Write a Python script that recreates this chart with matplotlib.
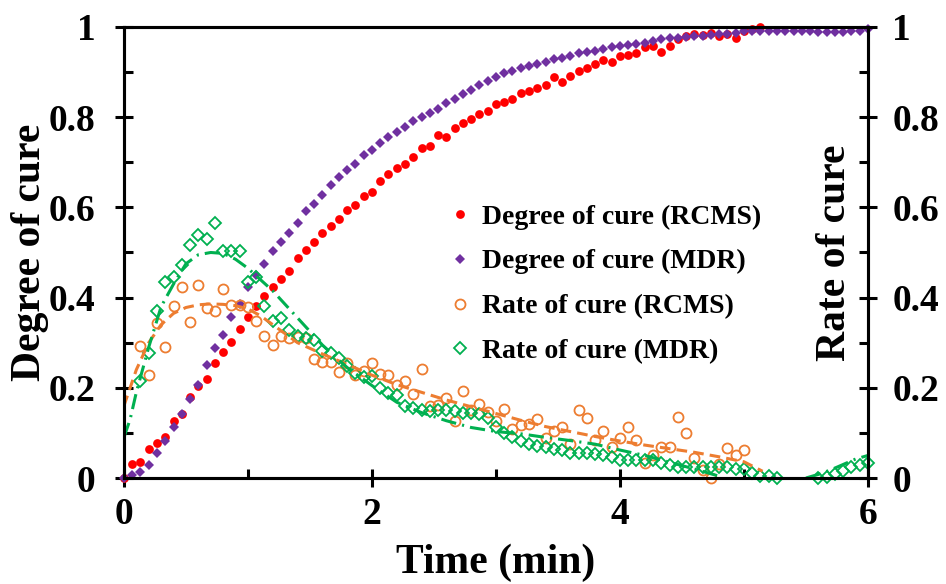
import numpy as np
import matplotlib
matplotlib.use('Agg')
import matplotlib.pyplot as plt
from matplotlib.ticker import MultipleLocator

plt.rcParams['font.family'] = ['Liberation Serif', 'DejaVu Serif']
plt.rcParams['font.weight'] = 'bold'

nan = np.nan

# sampling times (s), one point every 4 s
time_s = [0, 4, 8, 12, 16, 20, 24, 28, 32, 36, 40, 44, 48, 52, 56, 60, 64, 68, 72, 76,
          80, 84, 88, 92, 96, 100, 104, 108, 112, 116, 120, 124, 128, 132, 136, 140, 144, 148, 152, 156,
          160, 164, 168, 172, 176, 180, 184, 188, 192, 196, 200, 204, 208, 212, 216, 220, 224, 228, 232, 236,
          240, 244, 248, 252, 256, 260, 264, 268, 272, 276, 280, 284, 288, 292, 296, 300, 304, 308, 312, 316,
          320, 324, 328, 332, 336, 340, 344, 348, 352, 356, 360]

# degree of cure, RCMS
deg_rcms = [0.0, 0.031, 0.035, 0.064, 0.077, 0.090, 0.127, 0.141, 0.180, 0.204,
            0.219, 0.254, 0.279, 0.302, 0.331, 0.358, 0.381, 0.404, 0.423, 0.441,
            0.460, 0.487, 0.506, 0.523, 0.543, 0.559, 0.574, 0.594, 0.605, 0.626,
            0.634, 0.658, 0.675, 0.687, 0.696, 0.712, 0.731, 0.737, 0.760, 0.755,
            0.775, 0.786, 0.795, 0.806, 0.814, 0.829, 0.834, 0.841, 0.854, 0.857,
            0.865, 0.871, 0.888, 0.879, 0.891, 0.902, 0.908, 0.919, 0.927, 0.923,
            0.936, 0.938, 0.942, 0.955, 0.958, 0.945, 0.957, 0.973, 0.979, 0.984,
            0.983, 0.986, 0.981, 0.984, 0.976, 0.990, 0.995, 1.000, nan, nan,
            nan, nan, nan, nan, nan, nan, nan, nan, nan, nan, nan]

# degree of cure, MDR
deg_mdr = [0.0, 0.006, 0.014, 0.028, 0.055, 0.083, 0.112, 0.143, 0.176, 0.206,
           0.251, 0.288, 0.317, 0.358, 0.385, 0.423, 0.449, 0.474, 0.504, 0.523,
           0.544, 0.566, 0.593, 0.608, 0.627, 0.649, 0.667, 0.683, 0.697, 0.716,
           0.728, 0.742, 0.757, 0.768, 0.779, 0.792, 0.801, 0.810, 0.819, 0.831,
           0.840, 0.851, 0.860, 0.871, 0.881, 0.888, 0.897, 0.903, 0.908, 0.914,
           0.919, 0.923, 0.928, 0.931, 0.936, 0.942, 0.944, 0.947, 0.952, 0.955,
           0.958, 0.960, 0.962, 0.965, 0.968, 0.973, 0.975, 0.976, 0.978, 0.980,
           0.981, 0.982, 0.984, 0.985, 0.987, 0.990, 0.991, 0.991, 0.991, 0.991,
           0.991, 0.991, 0.991, 0.990, 0.989, 0.989, 0.989, 0.989, 0.990, 0.992, 0.995]

# rate of cure, RCMS
rate_rcms = [nan, nan, 0.293, 0.228, 0.343, 0.291, 0.381, 0.424, 0.346, 0.429,
             0.378, 0.370, 0.418, 0.383, 0.383, 0.380, 0.347, 0.314, 0.296, 0.314,
             0.311, 0.313, 0.311, 0.264, 0.258, 0.258, 0.236, 0.254, 0.228, 0.238,
             0.256, 0.231, 0.229, 0.207, 0.214, 0.186, 0.241, 0.160, 0.162, 0.177,
             0.127, 0.194, 0.150, 0.163, 0.147, 0.127, 0.152, 0.108, 0.118, 0.119,
             0.131, 0.088, 0.105, 0.112, 0.075, 0.151, 0.132, 0.084, 0.104, 0.069,
             0.089, 0.112, 0.084, 0.033, 0.051, 0.069, 0.068, 0.135, 0.099, 0.045,
             0.018, 0.0, 0.030, 0.067, 0.051, 0.061, nan, nan, nan, nan,
             nan, nan, nan, nan, nan, nan, nan, nan, nan, nan, nan]

# rate of cure, MDR
rate_mdr = [nan, nan, 0.214, 0.277, 0.371, 0.434, 0.445, 0.472, 0.516, 0.538,
            0.531, 0.566, 0.504, 0.504, 0.504, 0.434, 0.446, 0.381, 0.348, 0.354,
            0.329, 0.314, 0.311, 0.305, 0.281, 0.277, 0.265, 0.248, 0.232, 0.223,
            0.226, 0.199, 0.189, 0.184, 0.160, 0.155, 0.150, 0.149, 0.150, 0.150,
            0.149, 0.144, 0.145, 0.143, 0.132, 0.114, 0.099, 0.090, 0.081, 0.075,
            0.071, 0.068, 0.064, 0.061, 0.056, 0.056, 0.055, 0.053, 0.051, 0.047,
            0.040, 0.040, 0.040, 0.040, 0.040, 0.033, 0.028, 0.024, 0.025, 0.025,
            0.025, 0.025, 0.025, 0.024, 0.019, 0.019, 0.010, 0.004, 0.004, 0.0,
            nan, nan, nan, nan, 0.0, 0.002, 0.009, 0.016, 0.024, 0.029, 0.034]

# fitted rate curves
fit_rcms_t = [0, 0.05, 0.1, 0.15, 0.2, 0.3, 0.4, 0.5, 0.6, 0.7, 0.8, 0.9, 1.0, 1.1, 1.2,
              1.4, 1.6, 1.8, 2.0, 2.2, 2.4, 2.6, 2.8, 3.0, 3.2, 3.4, 3.6, 3.8, 4.0, 4.2,
              4.4, 4.6, 4.8, 5.0, 5.15]
fit_rcms = [0.16, 0.20, 0.24, 0.27, 0.30, 0.34, 0.365, 0.378, 0.384, 0.386, 0.385, 0.382, 0.375, 0.36, 0.34,
            0.30, 0.275, 0.252, 0.228, 0.207, 0.19, 0.173, 0.158, 0.143, 0.128, 0.114, 0.103, 0.092, 0.082, 0.073,
            0.065, 0.057, 0.047, 0.036, 0.015]

fit_mdr_t = [0, 0.05, 0.1, 0.15, 0.2, 0.25, 0.3, 0.4, 0.5, 0.6, 0.7, 0.8, 0.9, 1.0, 1.1, 1.2, 1.3, 1.4,
             1.6, 1.8, 2.0, 2.2, 2.4, 2.6, 2.8, 3.0, 3.2, 3.4, 3.6, 3.8, 4.0, 4.2, 4.4, 4.6, 4.8,
             5.2, 5.5, 5.6, 5.7, 5.8, 5.9, 6.0]
fit_mdr = [0.09, 0.13, 0.19, 0.24, 0.29, 0.335, 0.38, 0.43, 0.475, 0.495, 0.5, 0.498, 0.485, 0.465, 0.44, 0.415, 0.385, 0.355,
           0.295, 0.245, 0.205, 0.168, 0.145, 0.127, 0.112, 0.103, 0.098, 0.09, 0.083, 0.075, 0.062, 0.05, 0.035, 0.02, 0.004,
           nan, 0.0, 0.008, 0.018, 0.03, 0.042, 0.05]

x_ticks = [0, 2, 4, 6]
y_ticks = [0, 0.2, 0.4, 0.6, 0.8, 1.0]
y_tick_labels = ['0', '0.2', '0.4', '0.6', '0.8', '1']

t_min = np.array(time_s) / 60.0

fig = plt.figure(figsize=(9.46, 5.84), dpi=100)
ax = fig.add_axes([0.131, 0.1815, 0.7865, 0.7723])
ax2 = ax.twinx()

h1, = ax.plot(t_min, deg_rcms, 'o', color='#FF0000', ms=6.3, mew=0, clip_on=False,
              label='Degree of cure (RCMS)')
h2, = ax.plot(t_min, deg_mdr, 'D', color='#7030A0', ms=4.8, mew=0, clip_on=False,
              label='Degree of cure (MDR)')
h3, = ax2.plot(t_min, rate_rcms, 'o', mfc='none', mec='#ED7D31', ms=7.2, mew=1.3, clip_on=False,
               label='Rate of cure (RCMS)')
h4, = ax2.plot(t_min, rate_mdr, 'D', mfc='none', mec='#00B050', ms=5.7, mew=1.3, clip_on=False,
               label='Rate of cure (MDR)')
ax2.plot(fit_rcms_t, fit_rcms, color='#ED7D31', lw=2.2, dashes=(3.5, 2))
ax2.plot(fit_mdr_t, fit_mdr, color='#00B050', lw=2.2, dashes=(5, 2, 0.7, 2))

for a in (ax, ax2):
    a.set_xlim(0, 6)
    a.set_ylim(0, 1)
    a.set_yticks(y_ticks, labels=y_tick_labels)
    a.yaxis.set_minor_locator(MultipleLocator(0.1))
    for s in a.spines.values():
        s.set_linewidth(2.2)

ax.set_xticks(x_ticks)
ax.xaxis.set_minor_locator(MultipleLocator(1))
ax.tick_params(which='major', direction='inout', length=13, width=2.2, labelsize=27)
ax.tick_params(which='minor', direction='in', length=6.5, width=2.2)
ax.tick_params(axis='y', which='major', pad=14)
ax.tick_params(axis='x', which='major', pad=7)
ax2.tick_params(which='major', direction='inout', length=13, width=2.2, labelsize=27, pad=11)
ax2.tick_params(which='minor', direction='in', length=6.5, width=2.2)

ax.set_xlabel('Time (min)', fontsize=30, fontweight='bold')
ax.xaxis.set_label_coords(0.5, -0.188)
ax.xaxis.label.set_va('center')
ax.set_ylabel('Degree of cure', fontsize=30, fontweight='bold')
ax.yaxis.set_label_coords(-0.126, 0.5)
ax.yaxis.label.set_va('center')
ax2.set_ylabel('Rate of cure', fontsize=30, fontweight='bold', rotation=90)
ax2.yaxis.set_label_coords(0.956, 0.5)
ax2.yaxis.label.set_va('center')

leg = ax2.legend(handles=[h1, h2, h3, h4], loc='upper left', bbox_to_anchor=(0.425, 0.632),
                 frameon=False, fontsize=20, handlelength=0.6, handletextpad=0.5,
                 labelspacing=0.7, borderaxespad=0)
for txt in leg.get_texts():
    txt.set_fontweight('bold')

fig.savefig('out.png', dpi=100)
